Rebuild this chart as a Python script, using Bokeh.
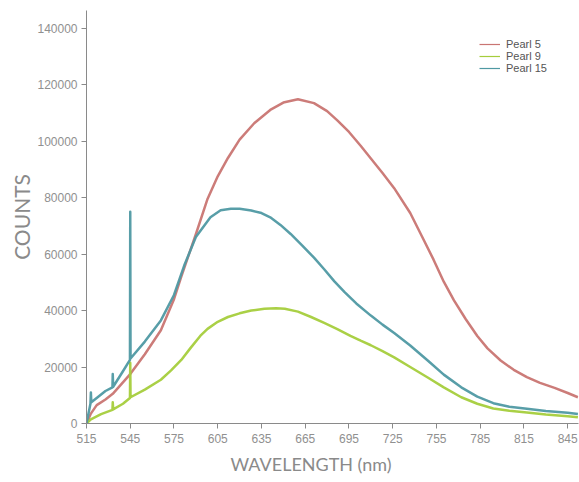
from bokeh.plotting import figure
from bokeh.models import (ColumnDataSource, FixedTicker, PrintfTickFormatter,
                          Legend, LegendItem, Range1d, Title)
from bokeh.embed import file_html
from bokeh.resources import INLINE

# ---- data ----
pearl5_wl = [515, 518, 522, 528, 533, 545, 555, 566, 575, 580, 585, 590, 598, 605,
             612, 620, 630, 641, 650, 660, 671, 680, 687, 695, 703, 710, 718, 726,
             737, 745, 753, 760, 767, 775, 783, 790, 799, 808, 817, 826, 836, 845, 852]
pearl5_counts = [0, 3500, 6500, 8500, 10500, 17500, 24500, 33000, 44000, 52000, 59500,
                 67000, 79500, 87500, 94000, 100500, 106300, 111000, 113600, 114800,
                 113400, 110600, 107300, 103200, 98300, 93800, 88700, 83300, 74500,
                 66300, 58000, 50200, 43600, 37000, 31000, 26600, 22300, 19000, 16400,
                 14400, 12600, 10800, 9300]

pearl9_wl = [515, 518, 525, 532.8, 533, 533.3, 540, 544.8, 545, 545.2, 555, 566, 573,
             580, 586, 593, 598, 605, 612, 620, 628, 637, 645, 651, 660, 669, 678,
             687, 696, 703, 710, 718, 726, 737, 749, 760, 772, 783, 794, 805, 817,
             830, 845, 852]
pearl9_counts = [0, 1500, 3300, 4800, 7500, 5000, 7000, 9000, 21500, 9300, 12000, 15500,
                 18800, 22500, 26500, 31000, 33500, 36000, 37700, 39000, 40000, 40600,
                 40800, 40600, 39600, 37700, 35600, 33400, 31000, 29300, 27700, 25600,
                 23400, 20000, 16300, 12800, 9300, 7000, 5300, 4500, 3900, 3200, 2600, 2200]

pearl15_wl = [515, 517.7, 518, 518.3, 522, 528, 532.8, 533, 533.3, 540, 544.8, 545,
              545.2, 555, 566, 575, 582, 590, 600, 607, 614, 620, 628, 635, 641, 648,
              655, 663, 671, 678, 685, 692, 700, 710, 718, 726, 737, 749, 760, 772,
              783, 794, 805, 817, 830, 845, 852]
pearl15_counts = [0, 7000, 11000, 7500, 9000, 11500, 12800, 17500, 13000, 18500, 22500,
                  75000, 23000, 29000, 36500, 45500, 55900, 66000, 73000, 75500, 76000,
                  76000, 75400, 74500, 73000, 70300, 67100, 63000, 58700, 54600, 50300,
                  46500, 42500, 38200, 35000, 32000, 27600, 22300, 17300, 12800, 9500,
                  7200, 5900, 5200, 4400, 3800, 3400]

x_ticks = [515, 545, 575, 605, 635, 665, 695, 725, 755, 785, 815, 845]
y_ticks = [0, 20000, 40000, 60000, 80000, 100000, 120000, 140000]

series_names = ["Pearl 5", "Pearl 9", "Pearl 15"]
series_colors = ["#c97572", "#a5cd3c", "#4f99a3"]

p = figure(width=579, height=482, output_backend="svg", toolbar_location=None,
           x_range=Range1d(515, 852.4), y_range=Range1d(0, 146200),
           min_border_left=86, min_border_right=1, min_border_top=10, min_border_bottom=59)
p.outline_line_color = None
p.xgrid.visible = False
p.ygrid.visible = False
p.background_fill_color = "white"

renderers = []
for wl, cnt, col in [(pearl5_wl, pearl5_counts, series_colors[0]),
                     (pearl9_wl, pearl9_counts, series_colors[1]),
                     (pearl15_wl, pearl15_counts, series_colors[2])]:
    src = ColumnDataSource(dict(x=wl, y=cnt))
    p.line("x", "y", source=src, line_color=col, line_width=2.5, line_alpha=0.95,
           line_join="round")
    # thin sample line used only for the legend (single point draws nothing)
    r = p.line(x=[wl[0]], y=[cnt[0]], line_color=col, line_width=1.2)
    renderers.append(r)

for ax in (p.xaxis[0], p.yaxis[0]):
    ax.axis_line_color = "#8a8a8a"
    ax.major_tick_line_color = "#8a8a8a"
    ax.minor_tick_line_color = None
    ax.major_tick_out = 5
    ax.major_tick_in = 0
    ax.major_label_text_font = "Liberation Sans"
    ax.major_label_text_font_size = "12px"
    ax.major_label_text_color = "#909090"

p.xaxis.ticker = FixedTicker(ticks=x_ticks)
p.yaxis.ticker = FixedTicker(ticks=y_ticks)
p.yaxis.formatter = PrintfTickFormatter(format="%d")
p.xaxis.major_label_standoff = 5
p.yaxis.major_label_standoff = 4

p.yaxis.axis_label = "COUNTS"
p.yaxis.axis_label_text_font = "Lato"
p.yaxis.axis_label_text_font_style = "normal"
p.yaxis.axis_label_text_font_size = "21px"
p.yaxis.axis_label_text_color = "#8a8a8a"
p.yaxis.axis_label_standoff = 0

xtitle = Title(text="WAVELENGTH (nm)", align="left", offset=144, standoff=10,
               text_font="Lato", text_font_style="normal", text_font_size="18px",
               text_color="#8a8a8a")
p.add_layout(xtitle, "below")

legend = Legend(items=[LegendItem(label=n, renderers=[r]) for n, r in zip(series_names, renderers)],
                location=(393, 349), orientation="vertical",
                border_line_color=None, background_fill_alpha=0,
                label_text_font="Liberation Sans", label_text_font_size="11px",
                label_text_color="#555555", glyph_width=21, glyph_height=12,
                label_height=12, spacing=0, padding=0, margin=0, label_standoff=6)
p.add_layout(legend)

open("out.html", "w").write(file_html(p, INLINE))
